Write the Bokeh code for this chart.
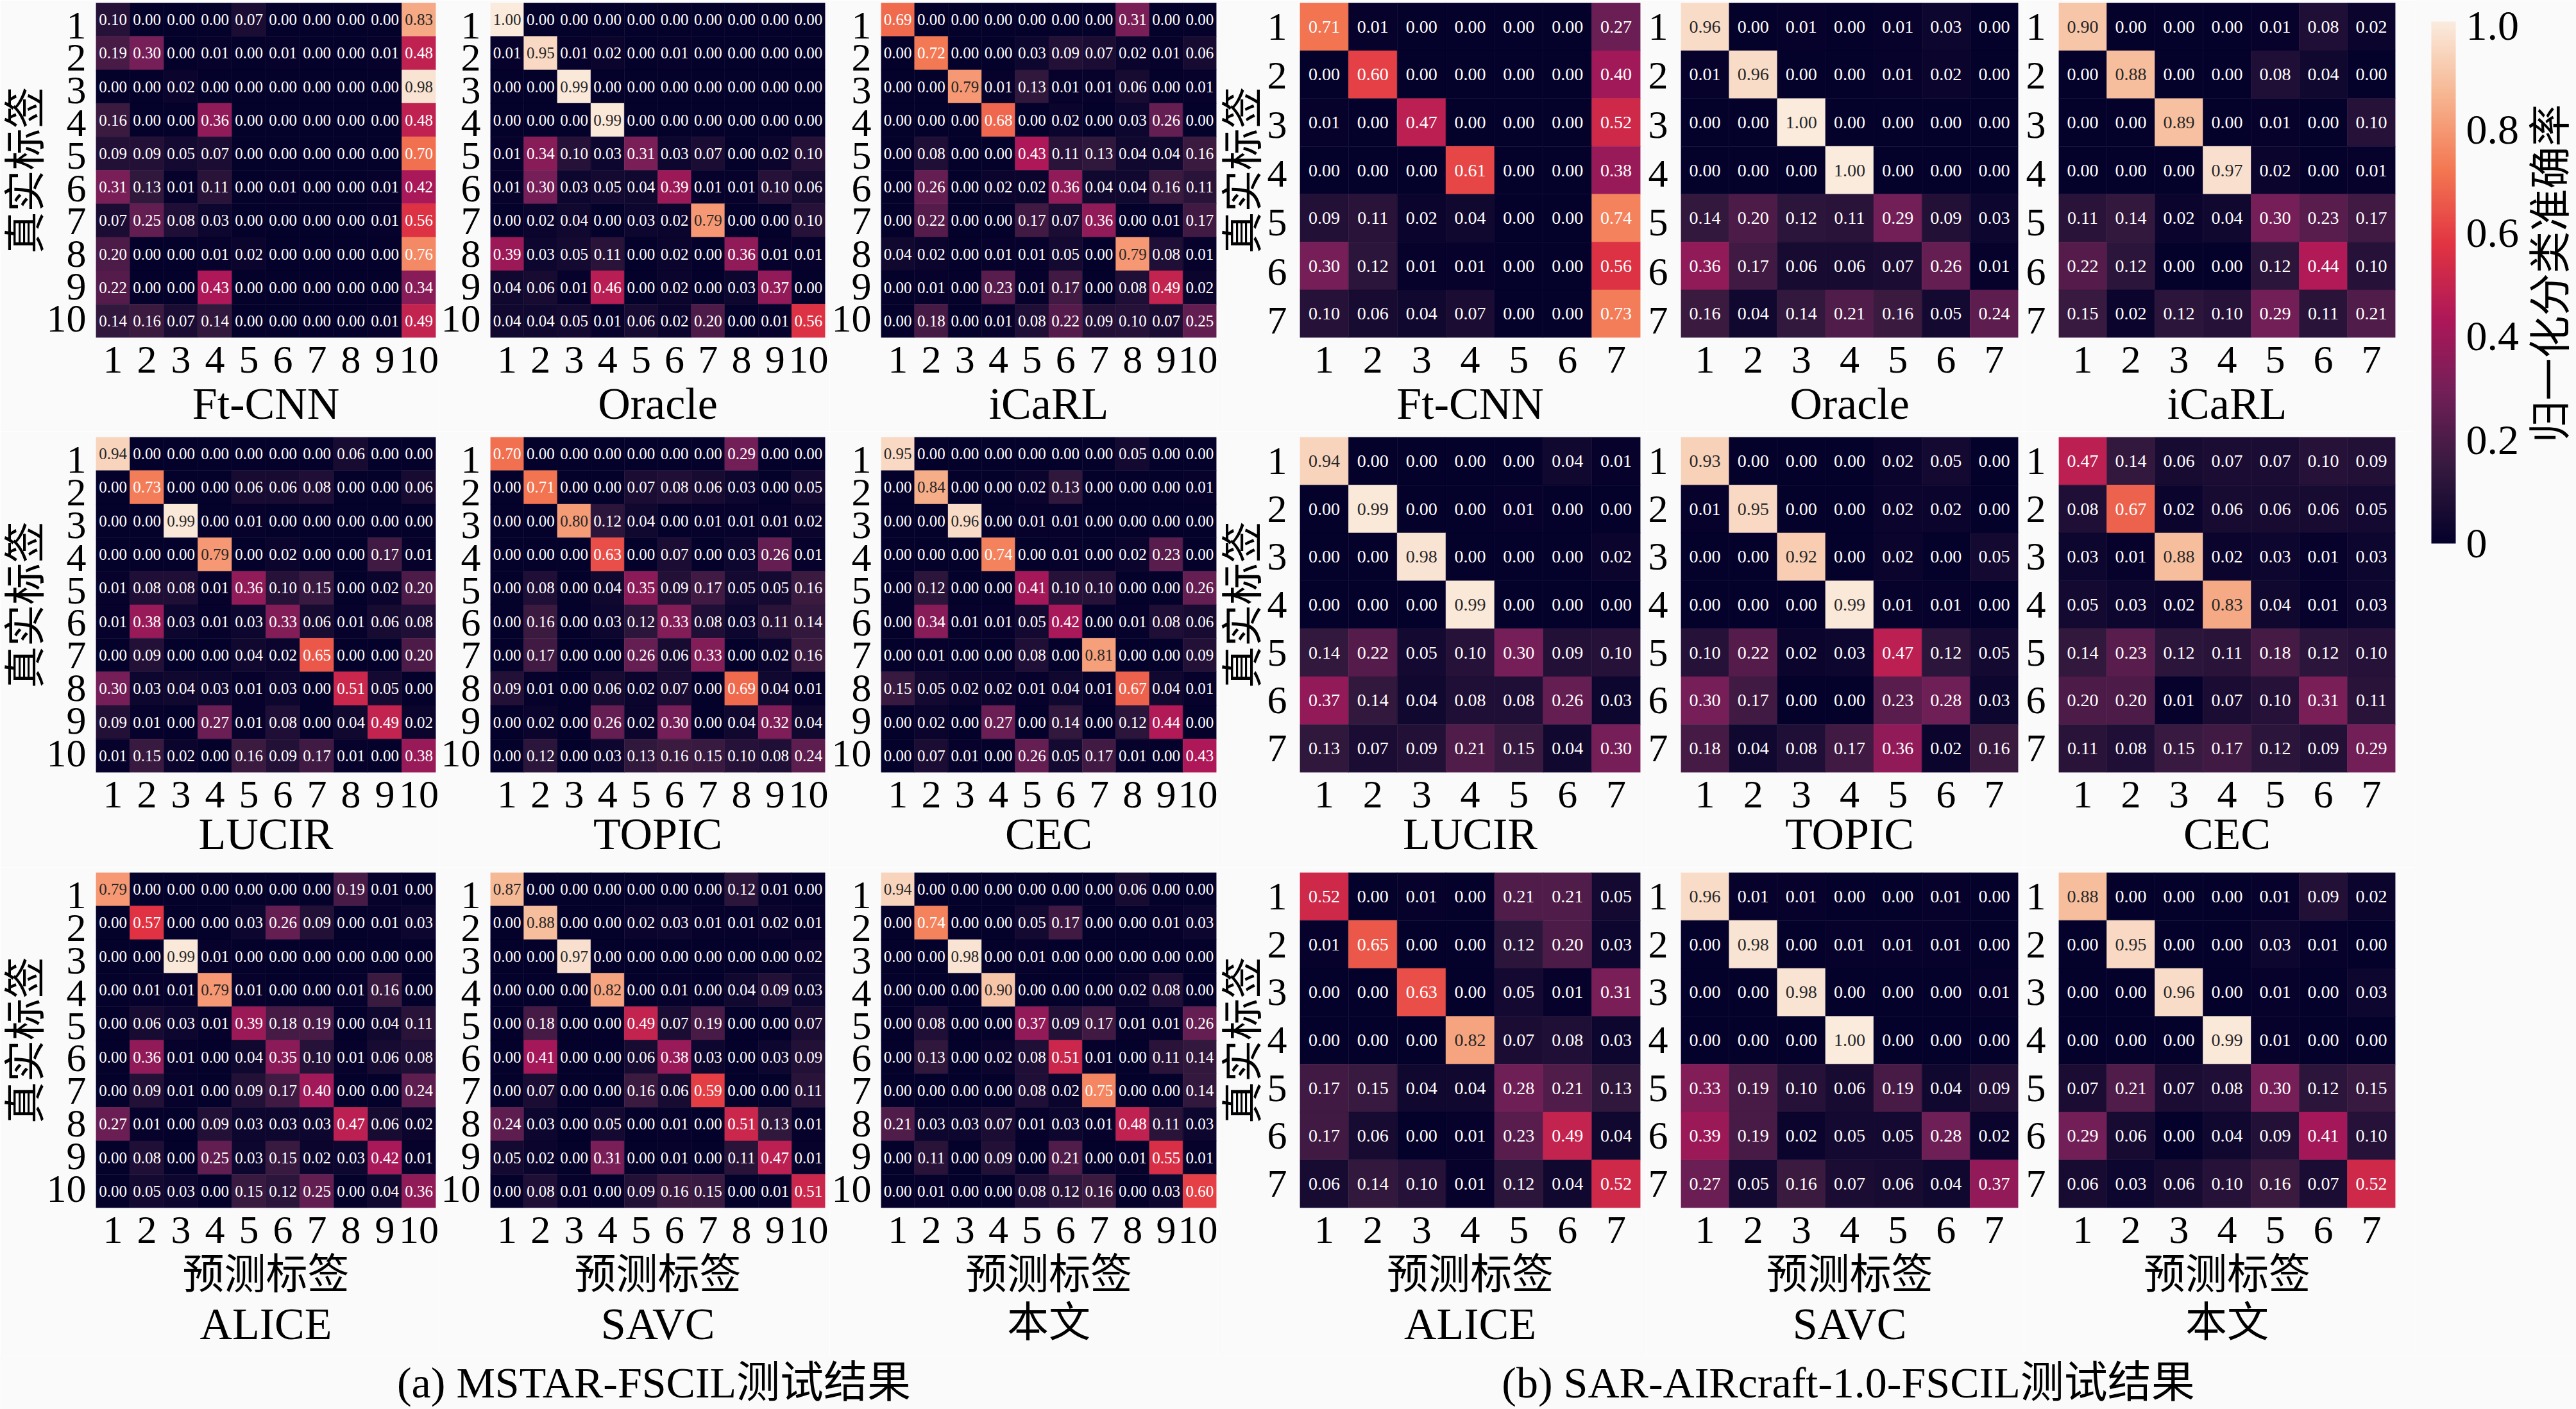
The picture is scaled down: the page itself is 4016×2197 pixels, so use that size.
from bokeh.plotting import figure
from bokeh.layouts import row, column
from bokeh.models import (ColumnDataSource, LinearColorMapper, Range1d, FixedTicker,
                          Label, ColorBar, LinearAxis)
from bokeh.core.properties import value
from bokeh.embed import file_html
from bokeh.resources import INLINE
from math import pi

# ---------- data: MSTAR-FSCIL (10 classes) ----------
mstar_ftcnn = [
 [.10,0,0,0,.07,0,0,0,0,.83],[.19,.30,0,.01,0,.01,0,0,.01,.48],[0,0,.02,0,0,0,0,0,0,.98],
 [.16,0,0,.36,0,0,0,0,0,.48],[.09,.09,.05,.07,0,0,0,0,0,.70],[.31,.13,.01,.11,0,.01,0,0,.01,.42],
 [.07,.25,.08,.03,0,0,0,0,.01,.56],[.20,0,0,.01,.02,0,0,0,0,.76],[.22,0,0,.43,0,0,0,0,0,.34],
 [.14,.16,.07,.14,0,0,0,0,.01,.49]]
mstar_oracle = [
 [1.00,0,0,0,0,0,0,0,0,0],[.01,.95,.01,.02,0,.01,0,0,0,0],[0,0,.99,0,0,0,0,0,0,0],
 [0,0,0,.99,0,0,0,0,0,0],[.01,.34,.10,.03,.31,.03,.07,0,.02,.10],[.01,.30,.03,.05,.04,.39,.01,.01,.10,.06],
 [0,.02,.04,0,.03,.02,.79,0,0,.10],[.39,.03,.05,.11,0,.02,0,.36,.01,.01],[.04,.06,.01,.46,0,.02,0,.03,.37,0],
 [.04,.04,.05,.01,.06,.02,.20,0,.01,.56]]
mstar_icarl = [
 [.69,0,0,0,0,0,0,.31,0,0],[0,.72,0,0,.03,.09,.07,.02,.01,.06],[0,0,.79,.01,.13,.01,.01,.06,0,.01],
 [0,0,0,.68,0,.02,0,.03,.26,0],[0,.08,0,0,.43,.11,.13,.04,.04,.16],[0,.26,0,.02,.02,.36,.04,.04,.16,.11],
 [0,.22,0,0,.17,.07,.36,0,.01,.17],[.04,.02,0,.01,.01,.05,0,.79,.08,.01],[0,.01,0,.23,.01,.17,0,.08,.49,.02],
 [0,.18,0,.01,.08,.22,.09,.10,.07,.25]]
mstar_lucir = [
 [.94,0,0,0,0,0,0,.06,0,0],[0,.73,0,0,.06,.06,.08,0,0,.06],[0,0,.99,0,.01,0,0,0,0,0],
 [0,0,0,.79,0,.02,0,0,.17,.01],[.01,.08,.08,.01,.36,.10,.15,0,.02,.20],[.01,.38,.03,.01,.03,.33,.06,.01,.06,.08],
 [0,.09,0,0,.04,.02,.65,0,0,.20],[.30,.03,.04,.03,.01,.03,0,.51,.05,0],[.09,.01,0,.27,.01,.08,0,.04,.49,.02],
 [.01,.15,.02,0,.16,.09,.17,.01,0,.38]]
mstar_topic = [
 [.70,0,0,0,0,0,0,.29,0,0],[0,.71,0,0,.07,.08,.06,.03,0,.05],[0,0,.80,.12,.04,0,.01,.01,.01,.02],
 [0,0,0,.63,0,.07,0,.03,.26,.01],[0,.08,0,.04,.35,.09,.17,.05,.05,.16],[0,.16,0,.03,.12,.33,.08,.03,.11,.14],
 [0,.17,0,0,.26,.06,.33,0,.02,.16],[.09,.01,0,.06,.02,.07,0,.69,.04,.01],[0,.02,0,.26,.02,.30,0,.04,.32,.04],
 [0,.12,0,.03,.13,.16,.15,.10,.08,.24]]
mstar_cec = [
 [.95,0,0,0,0,0,0,.05,0,0],[0,.84,0,0,.02,.13,0,0,0,.01],[0,0,.96,0,.01,.01,0,0,0,0],
 [0,0,0,.74,0,.01,0,.02,.23,0],[0,.12,0,0,.41,.10,.10,0,0,.26],[0,.34,.01,.01,.05,.42,0,.01,.08,.06],
 [0,.01,0,0,.08,0,.81,0,0,.09],[.15,.05,.02,.02,.01,.04,.01,.67,.04,.01],[0,.02,0,.27,0,.14,0,.12,.44,0],
 [0,.07,.01,0,.26,.05,.17,.01,0,.43]]
mstar_alice = [
 [.79,0,0,0,0,0,0,.19,.01,0],[0,.57,0,0,.03,.26,.09,0,.01,.03],[0,0,.99,.01,0,0,0,0,0,0],
 [0,.01,.01,.79,.01,0,0,.01,.16,0],[0,.06,.03,.01,.39,.18,.19,0,.04,.11],[0,.36,.01,0,.04,.35,.10,.01,.06,.08],
 [0,.09,.01,0,.09,.17,.40,0,0,.24],[.27,.01,0,.09,.03,.03,.03,.47,.06,.02],[0,.08,0,.25,.03,.15,.02,.03,.42,.01],
 [0,.05,.03,0,.15,.12,.25,0,.04,.36]]
mstar_savc = [
 [.87,0,0,0,0,0,0,.12,.01,0],[0,.88,0,0,.02,.03,.01,.01,.02,.01],[0,0,.97,0,0,0,0,0,0,.02],
 [0,0,0,.82,0,.01,0,.04,.09,.03],[0,.18,0,0,.49,.07,.19,0,0,.07],[0,.41,0,0,.06,.38,.03,0,.03,.09],
 [0,.07,0,0,.16,.06,.59,0,0,.11],[.24,.03,0,.05,0,.01,0,.51,.13,.01],[.05,.02,0,.31,0,.01,0,.11,.47,.01],
 [0,.08,.01,0,.09,.16,.15,0,.01,.51]]
mstar_ours = [
 [.94,0,0,0,0,0,0,.06,0,0],[0,.74,0,0,.05,.17,0,0,.01,.03],[0,0,.98,0,.01,0,0,0,0,0],
 [0,0,0,.90,0,0,0,.02,.08,0],[0,.08,0,0,.37,.09,.17,.01,.01,.26],[0,.13,0,.02,.08,.51,.01,0,.11,.14],
 [0,0,0,0,.08,.02,.75,0,0,.14],[.21,.03,.03,.07,.01,.03,.01,.48,.11,.03],[0,.11,0,.09,0,.21,0,.01,.55,.01],
 [0,.01,0,0,.08,.12,.16,0,.03,.60]]

# ---------- data: SAR-AIRcraft-1.0-FSCIL (7 classes) ----------
sar_ftcnn = [[.71,.01,0,0,0,0,.27],[0,.60,0,0,0,0,.40],[.01,0,.47,0,0,0,.52],[0,0,0,.61,0,0,.38],
             [.09,.11,.02,.04,0,0,.74],[.30,.12,.01,.01,0,0,.56],[.10,.06,.04,.07,0,0,.73]]
sar_oracle = [[.96,0,.01,0,.01,.03,0],[.01,.96,0,0,.01,.02,0],[0,0,1.00,0,0,0,0],[0,0,0,1.00,0,0,0],
              [.14,.20,.12,.11,.29,.09,.03],[.36,.17,.06,.06,.07,.26,.01],[.16,.04,.14,.21,.16,.05,.24]]
sar_icarl = [[.90,0,0,0,.01,.08,.02],[0,.88,0,0,.08,.04,0],[0,0,.89,0,.01,0,.10],[0,0,0,.97,.02,0,.01],
             [.11,.14,.02,.04,.30,.23,.17],[.22,.12,0,0,.12,.44,.10],[.15,.02,.12,.10,.29,.11,.21]]
sar_lucir = [[.94,0,0,0,0,.04,.01],[0,.99,0,0,.01,0,0],[0,0,.98,0,0,0,.02],[0,0,0,.99,0,0,0],
             [.14,.22,.05,.10,.30,.09,.10],[.37,.14,.04,.08,.08,.26,.03],[.13,.07,.09,.21,.15,.04,.30]]
sar_topic = [[.93,0,0,0,.02,.05,0],[.01,.95,0,0,.02,.02,0],[0,0,.92,0,.02,0,.05],[0,0,0,.99,.01,.01,0],
             [.10,.22,.02,.03,.47,.12,.05],[.30,.17,0,0,.23,.28,.03],[.18,.04,.08,.17,.36,.02,.16]]
sar_cec = [[.47,.14,.06,.07,.07,.10,.09],[.08,.67,.02,.06,.06,.06,.05],[.03,.01,.88,.02,.03,.01,.03],
           [.05,.03,.02,.83,.04,.01,.03],[.14,.23,.12,.11,.18,.12,.10],[.20,.20,.01,.07,.10,.31,.11],
           [.11,.08,.15,.17,.12,.09,.29]]
sar_alice = [[.52,0,.01,0,.21,.21,.05],[.01,.65,0,0,.12,.20,.03],[0,0,.63,0,.05,.01,.31],[0,0,0,.82,.07,.08,.03],
             [.17,.15,.04,.04,.28,.21,.13],[.17,.06,0,.01,.23,.49,.04],[.06,.14,.10,.01,.12,.04,.52]]
sar_savc = [[.96,.01,.01,0,0,.01,0],[0,.98,0,.01,.01,.01,0],[0,0,.98,0,0,0,.01],[0,0,0,1.00,0,0,0],
            [.33,.19,.10,.06,.19,.04,.09],[.39,.19,.02,.05,.05,.28,.02],[.27,.05,.16,.07,.06,.04,.37]]
sar_ours = [[.88,0,0,0,.01,.09,.02],[0,.95,0,0,.03,.01,0],[0,0,.96,0,.01,0,.03],[0,0,0,.99,.01,0,0],
            [.07,.21,.07,.08,.30,.12,.15],[.29,.06,0,.04,.09,.41,.10],[.06,.03,.06,.10,.16,.07,.52]]

method_names = [["Ft-CNN", "Oracle", "iCaRL"], ["LUCIR", "TOPIC", "CEC"], ["ALICE", "SAVC", "本文"]]
mstar_panels = [[mstar_ftcnn, mstar_oracle, mstar_icarl], [mstar_lucir, mstar_topic, mstar_cec],
                [mstar_alice, mstar_savc, mstar_ours]]
sar_panels = [[sar_ftcnn, sar_oracle, sar_icarl], [sar_lucir, sar_topic, sar_cec],
              [sar_alice, sar_savc, sar_ours]]
y_title = "真实标签"
x_title = "预测标签"
cbar_title = "归一化分类准确率"
captions = ["(a) MSTAR-FSCIL测试结果", "(b) SAR-AIRcraft-1.0-FSCIL测试结果"]
cbar_ticks = [0, 0.2, 0.4, 0.6, 0.8, 1.0]
cbar_tick_labels = ["0", "0.2", "0.4", "0.6", "0.8", "1.0"]

# ---------- style ----------
BG = "#fafafa"
LATIN = "Liberation Serif"
MIXED = "Liberation Serif, Noto Sans CJK SC"
TICK_PT = "62px"
TITLE_PT = "65px"
METHOD_PT = "70px"
CAPTION_PT = "68px"
anchors = [(0.0, (4, 1, 42)), (1/7, (0x35, 0x19, 0x3e)), (2/7, (0x70, 0x1f, 0x57)), (3/7, (0xad, 0x17, 0x59)),
           (4/7, (0xe1, 0x33, 0x42)), (5/7, (0xf3, 0x76, 0x51)), (6/7, (0xf6, 0xb4, 0x8f)), (1.0, (0xfa, 0xeb, 0xdd))]


def ramp(n=256):
    out = []
    for i in range(n):
        t = i / (n - 1)
        for (a, ca), (b, cb) in zip(anchors, anchors[1:]):
            if t <= b:
                f = (t - a) / (b - a)
                c = [round(x + (y - x) * f) for x, y in zip(ca, cb)]
                out.append("#%02x%02x%02x" % tuple(c))
                break
    return out


PALETTE = ramp()
mapper = LinearColorMapper(palette=PALETTE, low=0, high=1)

# ---------- layout (pixels of the page) ----------
x_cuts = [0, 684, 1293, 1898, 2566, 3155, 3764]
x_frames = [(147, 679), (753, 1286), (1364, 1896), (2025, 2557), (2615, 3146), (3205, 3734)]
y_cuts = [0, 672, 1352, 2114]
y_frames = [(4, 526), (681, 1204), (1360, 1883)]
x_label_standoff = [7, 0, 10]
y_label_standoff = {0: -6, 3: -1}


def style_title(ax, text, size, standoff):
    ax.axis_label = text
    ax.axis_label_text_font = MIXED
    ax.axis_label_text_font_size = size
    ax.axis_label_text_font_style = "normal"
    ax.axis_label_text_color = "#000000"
    ax.axis_label_standoff = standoff


def panel(matrix, ci, ri, method):
    n = len(matrix)
    x0, x1 = x_cuts[ci], x_cuts[ci + 1]
    y0, y1 = y_cuts[ri], y_cuts[ri + 1]
    fx0, fx1 = x_frames[ci]
    fy0, fy1 = y_frames[ri]
    p = figure(width=x1 - x0, height=y1 - y0, output_backend="svg", toolbar_location=None,
               x_range=Range1d(0.5, n + 0.5), y_range=Range1d(n + 0.5, 0.5),
               min_border_left=fx0 - x0, min_border_right=x1 - fx1,
               min_border_top=fy0 - y0, min_border_bottom=y1 - fy1,
               background_fill_color=BG, border_fill_color=BG, outline_line_color=None)
    p.grid.visible = False
    xs, ys, vals, txt, tc = [], [], [], [], []
    for r, line in enumerate(matrix):
        for c, v in enumerate(line):
            xs.append(c + 1)
            ys.append(r + 1)
            vals.append(v)
            txt.append("%.2f" % v)
            tc.append("#262626" if v >= 0.78 else "#ffffff")
    src = ColumnDataSource(dict(x=xs, y=ys, v=vals, t=txt, tc=tc))
    fill = {"field": "v", "transform": mapper}
    p.rect("x", "y", 1, 1, source=src, fill_color=fill, line_color=fill, line_width=0.5)
    p.text("x", "y", text="t", source=src, text_color="tc", text_align="center", text_baseline="middle",
           text_font=value(LATIN), text_font_size="25px" if n == 10 else "28px")
    ticks = list(range(1, n + 1))
    ch = (fy1 - fy0) / n
    # the tick labels of the y axis sit a few pixels off the row centres in the reference
    if n == 10:
        first, last = 9.0, -3.0
    elif ri == 0:
        first, last = 0.0, 11.0
    else:
        first, last = 0.0, 0.0
    y_ticks = [t + (first + (last - first) * (t - 1) / (n - 1)) / ch for t in ticks]
    for ax, standoff, locs in ((p.xaxis[0], 8, ticks), (p.yaxis[0], 9 if n == 10 else 14, y_ticks)):
        ax.ticker = FixedTicker(ticks=locs)
        ax.major_label_overrides = {loc: str(t) for loc, t in zip(locs, ticks)}
        ax.major_label_text_font = LATIN
        ax.major_label_text_font_size = TICK_PT
        ax.major_label_text_color = "#000000"
        ax.major_label_standoff = standoff
        ax.major_tick_line_color = None
        ax.minor_tick_line_color = None
        ax.axis_line_color = None
    style_title(p.xaxis[0], method if ri < 2 else x_title, METHOD_PT if ri < 2 else TITLE_PT, x_label_standoff[ri])
    if ri == 2:
        extra = LinearAxis(ticker=FixedTicker(ticks=[]), major_tick_line_color=None, minor_tick_line_color=None,
                           axis_line_color=None, major_label_text_font_size="1px", major_label_standoff=0)
        style_title(extra, method, METHOD_PT if method.isascii() else TITLE_PT, 0)
        p.add_layout(extra, "below")
    if ci in y_label_standoff:
        style_title(p.yaxis[0], y_title, TITLE_PT, y_label_standoff[ci])
    return p


rows = []
for ri in range(3):
    figs = []
    for j in range(3):
        figs.append(panel(mstar_panels[ri][j], j, ri, method_names[ri][j]))
    for j in range(3):
        figs.append(panel(sar_panels[ri][j], j + 3, ri, method_names[ri][j]))
    rows.append(row(*figs, spacing=0))
grid = column(*rows, spacing=0)

# ---------- colour bar ----------
cb_w, cb_h = 4016 - x_cuts[-1], y_cuts[-1]
cb_fig = figure(width=cb_w, height=cb_h, output_backend="svg", toolbar_location=None,
                x_range=Range1d(x_cuts[-1], 4016), y_range=Range1d(cb_h, 0),
                min_border_left=0, min_border_right=0, min_border_top=0, min_border_bottom=0,
                background_fill_color=BG, border_fill_color=BG, outline_line_color=None)
cb_fig.axis.visible = False
cb_fig.grid.visible = False
bar_mapper = LinearColorMapper(palette=PALETTE, low=0, high=1.009)
bar = ColorBar(color_mapper=bar_mapper, ticker=FixedTicker(ticks=cbar_ticks),
               major_label_overrides=dict(zip(cbar_ticks, cbar_tick_labels)),
               major_label_text_font=LATIN, major_label_text_font_size="66px", major_label_text_color="#000000",
               major_tick_line_color=None, minor_tick_line_color=None, bar_line_color=None,
               border_line_color=None, background_fill_color=None, padding=0,
               width=38, height=814, location=(26, cb_h - 847), label_standoff=16)
cb_fig.add_layout(bar)
cb_fig.add_layout(Label(x=3976, y=426, text=cbar_title, angle=pi / 2, text_align="center", text_baseline="middle",
                        text_font=MIXED, text_font_size="66px", text_color="#000000"))

# ---------- captions ----------
strip = figure(width=4016, height=2197 - y_cuts[-1], output_backend="svg", toolbar_location=None,
               x_range=Range1d(0, 4016), y_range=Range1d(2197, y_cuts[-1]),
               min_border_left=0, min_border_right=0, min_border_top=0, min_border_bottom=0,
               background_fill_color=BG, border_fill_color=BG, outline_line_color=None)
strip.axis.visible = False
strip.grid.visible = False
for cx, cap in zip([1019, 2881], captions):
    strip.add_layout(Label(x=cx, y=2155, text=cap, text_align="center", text_baseline="middle",
                           text_font=MIXED, text_font_size=CAPTION_PT, text_color="#000000"))

page = column(row(grid, cb_fig, spacing=0), strip, spacing=0)
open("out.html", "w").write(file_html(page, INLINE))
